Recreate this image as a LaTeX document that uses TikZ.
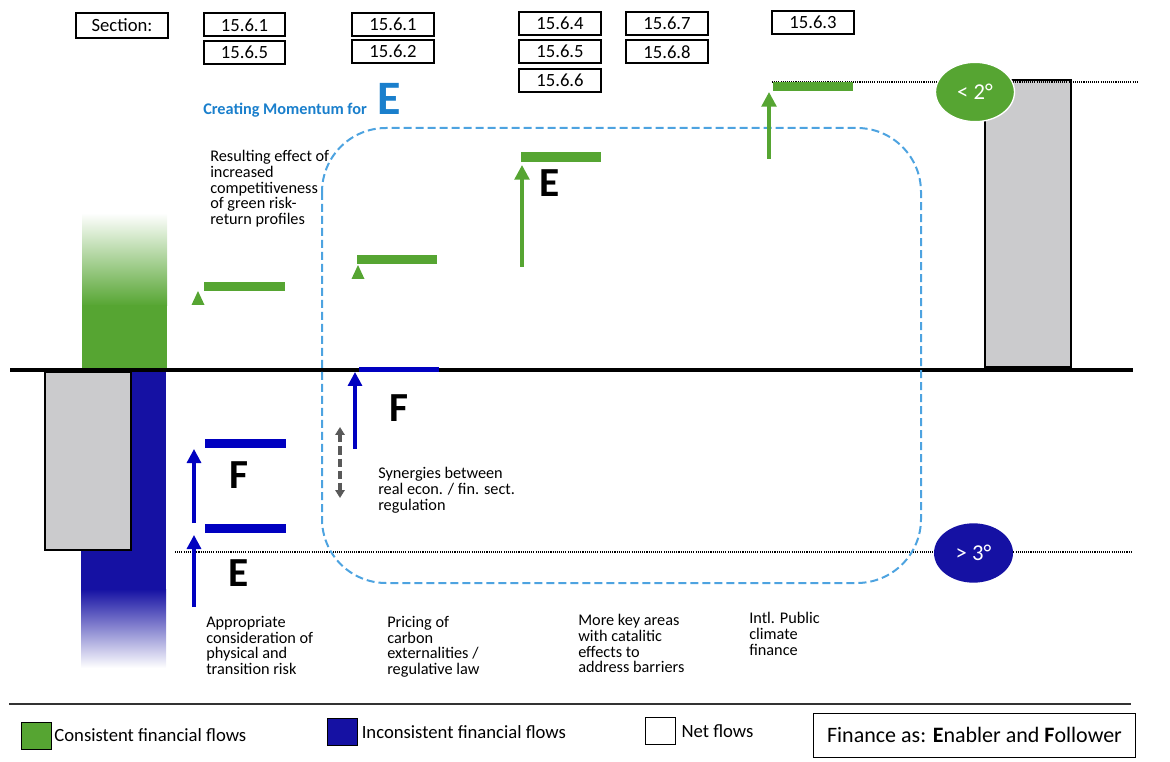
\documentclass[tikz,border=0pt]{standalone}
\usepackage{fontspec}
\setmainfont{Carlito}
\usepackage[HTML]{xcolor}
\usepackage{tikz}
\usetikzlibrary{positioning, arrows.meta, shapes.geometric}

\definecolor{consgreen}{HTML}{56A532}
\definecolor{inconsblue}{HTML}{1511A3}
\definecolor{flowblue}{HTML}{0000C0}
\definecolor{netgray}{HTML}{CBCBCD}
\definecolor{loopblue}{HTML}{4DA3E0}
\definecolor{momblue}{HTML}{1A7FCC}
\definecolor{syngray}{HTML}{595959}

\tikzset{
  secbox/.style={draw, line width=1.5pt, minimum width=61pt, minimum height=17.25pt,
    inner sep=0pt, font=\fontsize{14}{14}\selectfont},
  note/.style={anchor=north west, align=left, inner sep=0pt,
    font=\fontsize{12.2}{11.8}\selectfont},
  bigletter/.style={inner sep=0pt, font=\fontsize{31}{31}\selectfont\bfseries},
  garrow/.style={consgreen, line width=2.6pt, -{Triangle[width=11pt,length=11pt]}},
  barrow/.style={flowblue, line width=2.4pt, -{Triangle[width=10.5pt,length=10.5pt]}},
  gbar/.style={consgreen, line width=7pt},
  bbar/.style={flowblue, line width=6.75pt},
  level/.style={line width=0.8pt, dash pattern=on 0.8pt off 0.8pt},
  tempnode/.style={ellipse, minimum width=59.25pt, minimum height=44.5pt, inner sep=0pt,
    text=white, font=\fontsize{17}{17}\selectfont},
  legsq/.style={draw, line width=0.75pt, minimum width=22.5pt, minimum height=20.25pt, inner sep=0pt},
  leglabel/.style={inner sep=0pt, font=\fontsize{14}{14}\selectfont},
}

\begin{document}
\begin{tikzpicture}[x=0.75pt, y=-0.75pt]
\useasboundingbox (0,0) rectangle (1170,762);

% arrow ends and bars
\coordinate (riskE0) at (194,607);
\coordinate (riskE1) at (194,535);
\coordinate (riskF0) at (194,523);
\coordinate (riskF1) at (194,449);
\coordinate (carbF0) at (355,449);
\coordinate (carbF1) at (355,372);
\coordinate (keyE0) at (522,267);
\coordinate (keyE1) at (522,165);
\coordinate (intl0) at (769,159);
\coordinate (intl1) at (769,92);
\coordinate (syn0) at (340,427);
\coordinate (syn1) at (340,498);

% flow columns
\shade[top color=white, bottom color=consgreen] (82,213) rectangle (167,306);
\fill[consgreen] (82,305) rectangle (167,369);
\fill[inconsblue] (81,371) rectangle (166,590);
\shade[top color=inconsblue, bottom color=white] (81,589) rectangle (166,668);
\filldraw[fill=netgray, line width=1.5pt] (45,372) rectangle (131,550);
\filldraw[fill=netgray, line width=1.5pt] (985,80) rectangle (1071,367);

% levels
\draw[level] (175,552) -- (1132,552);
\draw[level] (772,82) -- (1137,82);
\draw[line width=2.6pt] (10,370) -- (1133,370);

% momentum loop
\draw[loopblue, line width=1.5pt, dash pattern=on 6pt off 3pt, rounded corners=48pt]
  (322,128) rectangle (921,583);

% bars
\draw[gbar] (204,286.5) -- (285,286.5);
\draw[gbar] (357,259.5) -- (437,259.5);
\draw[gbar] (521,157) -- (601,157);
\draw[gbar] (773,86.5) -- (853,86.5);
\draw[bbar] (205,443.5) -- (286,443.5);
\draw[bbar] (205,528.5) -- (286,528.5);
\draw[flowblue, line width=3.75pt] (359,369.5) -- (439,369.5);

% arrows
\fill[consgreen] (191.5,305) -- (198,291) -- (204.5,305) -- cycle;
\fill[consgreen] (351.5,279) -- (358,265) -- (364.5,279) -- cycle;
\draw[garrow] (keyE0) -- (keyE1);
\draw[garrow] (intl0) -- (intl1);
\draw[barrow] (riskE0) -- (riskE1);
\draw[barrow] (riskF0) -- (riskF1);
\draw[barrow] (carbF0) -- (carbF1);
\draw[syngray, line width=2.4pt, dash pattern=on 6pt off 3pt,
  {Triangle[width=7pt,length=6pt]}-{Triangle[width=7pt,length=6pt]}] (syn0) -- (syn1);

% temperature targets
\node[tempnode, fill=consgreen, draw=white, line width=1pt] (below2) at (975,92) {< 2°};
\node[tempnode, fill=inconsblue] (above3) at (973.5,553) {> 3°};

% sections
\node[secbox, minimum width=69pt, minimum height=19pt] (sec) at (122,25.5) {Section:};
\node[secbox] (sA1) at (244.5,25) {15.6.1};
\node[secbox] (sA2) at (244.5,52.5) {15.6.5};
\node[secbox] (sB1) at (393,24.5) {15.6.1};
\node[secbox] (sB2) at (393,51.5) {15.6.2};
\node[secbox] (sC1) at (560,23.5) {15.6.4};
\node[secbox] (sC2) at (560,51.5) {15.6.5};
\node[secbox] (sC3) at (560,80.5) {15.6.6};
\node[secbox] (sD1) at (667,23.5) {15.6.7};
\node[secbox] (sD2) at (667,52) {15.6.8};
\node[secbox] (sE1) at (813,22.5) {15.6.3};

% labels
\node[anchor=base west, inner sep=0pt, text=momblue, font=\fontsize{12.2}{12}\selectfont\bfseries]
  (momentum) at (203,115) {Creating Momentum for};
\node[inner sep=0pt, text=momblue, font=\fontsize{36}{36}\selectfont\bfseries] (momE) at (389.5,98.5) {E};
\node[note] (result) at (210,150) {Resulting effect of\\increased\\competitiveness\\of green risk-\\return profiles};
\node[note] (risk) at (206,616) {Appropriate\\consideration of\\physical and\\transition risk};
\node[note] (carbon) at (387,616) {Pricing of\\carbon\\externalities /\\regulative law};
\node[note] (keyareas) at (578,614) {More key areas\\with catalitic\\effects to\\address barriers};
\node[note] (public) at (749,612) {Intl. Public\\climate\\finance};
\node[note] (synergy) at (378,467) {Synergies between\\real econ. / fin. sect.\\regulation};

\node[bigletter] (riskF) at (238.5,475.5) {F};
\node[bigletter] (riskE) at (238.5,573) {E};
\node[bigletter] (carbF) at (399,408) {F};
\node[bigletter] (keyE) at (549.5,183.5) {E};

% legend
\draw[line width=1.5pt, black!80] (9,704) -- (1131,704);
\node[legsq, fill=consgreen] (lgcons) at (36,735.5) {};
\node[leglabel, right=2pt of lgcons] {Consistent financial flows};
\node[legsq, fill=inconsblue] (lgincons) at (342,732) {};
\node[leglabel, right=3pt of lgincons] {Inconsistent financial flows};
\node[legsq, fill=white] (lgnet) at (660.5,731) {};
\node[leglabel, right=4pt of lgnet] {Net flows};
\node[draw, line width=0.75pt, minimum width=242pt, minimum height=33pt, inner sep=0pt,
  font=\fontsize{16.5}{16.5}\selectfont] (lgfin) at (974.5,735) {Finance as: \textbf{E}nabler and \textbf{F}ollower};
\end{tikzpicture}
\end{document}
